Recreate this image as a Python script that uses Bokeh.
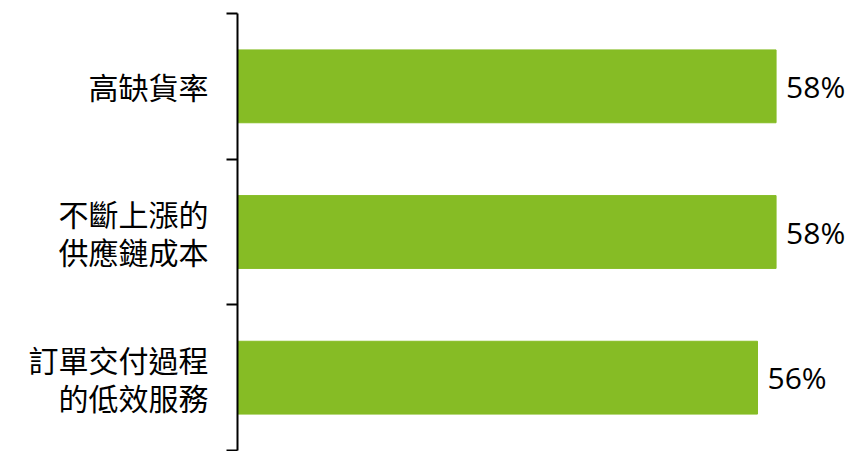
from bokeh.plotting import figure
from bokeh.models import Range1d, FixedTicker, ColumnDataSource
from bokeh.core.properties import value
from bokeh.embed import file_html
from bokeh.resources import INLINE

categories = ["高缺貨率", "不斷上漲的\n供應鏈成本", "訂單交付過程\n的低效服務"]
values = [58, 58, 56]
value_labels = ["58%", "58%", "56%"]

n = len(categories)
ys = [n - i - 0.5 for i in range(n)]

src = ColumnDataSource(dict(y=ys, v=values, lab=value_labels))

p = figure(width=848, height=451, output_backend="svg", toolbar_location=None,
           x_range=Range1d(0, 65.8), y_range=Range1d(0, n),
           min_border_left=237, min_border_right=0, min_border_top=13, min_border_bottom=1)
p.outline_line_color = None
p.grid.visible = False
p.xaxis.visible = False
p.background_fill_color = "white"
p.border_fill_color = "white"

p.hbar(y="y", right="v", left=0, height=0.5, source=src, color="#86bc25")

p.text(x="v", y="y", text="lab", source=src, x_offset=10,
       text_baseline="middle", text_align="left",
       text_font=value("Open Sans"), text_font_size="30px", text_color="#000000")

ax = p.yaxis[0]
ax.ticker = FixedTicker(ticks=ys, minor_ticks=list(range(n + 1)))
ax.major_label_overrides = {y: c for y, c in zip(ys, categories)}
ax.major_tick_line_color = None
ax.major_tick_out = 0
ax.major_tick_in = 0
ax.minor_tick_out = 11
ax.minor_tick_in = 0
ax.minor_tick_line_color = "black"
ax.minor_tick_line_width = 2
ax.axis_line_color = "black"
ax.axis_line_width = 2
ax.major_label_standoff = 18
ax.major_label_text_font = "Noto Sans CJK TC"
ax.major_label_text_font_size = "30px"
ax.major_label_text_color = "#000000"
ax.major_label_text_line_height = 0.86

open("out.html", "w").write(file_html(p, INLINE))
